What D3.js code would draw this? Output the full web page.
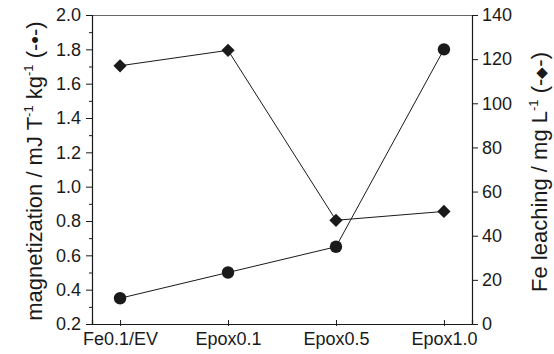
<!DOCTYPE html>
<html>
<head>
<meta charset="utf-8">
<script src="https://cdn.jsdelivr.net/npm/d3@7/dist/d3.min.js"></script>
<style>
  html, body { margin: 0; padding: 0; background: #fff; }
  svg { display: block; font-family: "Liberation Sans", Arial, sans-serif; }
</style>
</head>
<body>
<svg id="chart" width="554" height="354"></svg>
<script>
// Samples along the x axis
const categories = ["Fe0.1/EV", "Epox0.1", "Epox0.5", "Epox1.0"];
// Magnetization, mJ T^-1 kg^-1 (left axis, circles)
const magnetization = [0.35, 0.50, 0.65, 1.80];
// Fe leaching, mg L^-1 (right axis, diamonds)
const feLeaching = [117, 124, 47, 51];
// Axis ticks
const leftTicks = [0.2, 0.4, 0.6, 0.8, 1.0, 1.2, 1.4, 1.6, 1.8, 2.0];
const leftMinorTicks = [0.3, 0.5, 0.7, 0.9, 1.1, 1.3, 1.5, 1.7, 1.9];
const rightTicks = [0, 20, 40, 60, 80, 100, 120, 140];

const svg = d3.select("#chart");
const m = { left: 92, right: 472, top: 15, bottom: 324 };

const x = d3.scalePoint().domain(categories).range([m.left, m.right]).padding(0.26);
const yL = d3.scaleLinear().domain([0.2, 2.0]).range([m.bottom, m.top]);
const yR = d3.scaleLinear().domain([0, 140]).range([m.bottom, m.top]);

const ink = "#1a1a1a";

// Top frame line
svg.append("line")
  .attr("x1", m.left).attr("x2", m.right)
  .attr("y1", m.top + 0.5).attr("y2", m.top + 0.5)
  .attr("stroke", "#666").attr("stroke-width", 1);

// Left axis
svg.append("g").attr("transform", `translate(${m.left},0)`)
  .call(d3.axisLeft(yL).tickValues(leftTicks).tickFormat(d3.format(".1f")).tickSize(6).tickPadding(5));
svg.append("g").attr("transform", `translate(${m.left},0)`)
  .call(d3.axisLeft(yL).tickValues(leftMinorTicks).tickFormat("").tickSize(3))
  .select(".domain").remove();

// Right axis
svg.append("g").attr("transform", `translate(${m.right},0)`)
  .call(d3.axisRight(yR).tickValues(rightTicks).tickSize(6).tickPadding(4));

// Bottom axis
const gB = svg.append("g").attr("transform", `translate(0,${m.bottom})`)
  .call(d3.axisBottom(x).tickSize(-4).tickPadding(8));
gB.selectAll(".tick line").attr("y1", 2);

svg.selectAll(".domain").attr("stroke", ink).attr("stroke-width", 1.2);
svg.selectAll(".tick line").attr("stroke", ink).attr("stroke-width", 1);
svg.selectAll(".tick text").attr("fill", ink).attr("font-size", 18)
  .attr("font-family", "Liberation Sans, Arial, sans-serif");

// Axis titles
const titleL = svg.append("text")
  .attr("transform", `translate(42,171) rotate(-90)`)
  .attr("text-anchor", "middle").attr("font-size", 22).attr("fill", ink);
titleL.append("tspan").text("magnetization / mJ T");
titleL.append("tspan").attr("dy", -9).attr("font-size", 13).text("-1");
titleL.append("tspan").attr("dy", 9).text(" kg");
titleL.append("tspan").attr("dy", -9).attr("font-size", 13).text("-1");
titleL.append("tspan").attr("dy", 9).text(" (-\u2022-)");

const titleR = svg.append("text")
  .attr("transform", `translate(547,172) rotate(-90)`)
  .attr("text-anchor", "middle").attr("font-size", 22).attr("fill", ink);
titleR.append("tspan").text("Fe leaching / mg L");
titleR.append("tspan").attr("dy", -9).attr("font-size", 13).text("-1");
titleR.append("tspan").attr("dy", 9).text(" (-");
titleR.append("tspan").attr("font-size", 15).attr("dy", -1.5).text("\u25C6");
titleR.append("tspan").attr("dy", 1.5).text("-)");

// Series lines
const lineM = d3.line().x((d, i) => x(categories[i])).y(d => yL(d));
const lineF = d3.line().x((d, i) => x(categories[i])).y(d => yR(d));

svg.append("path").datum(magnetization).attr("d", lineM)
  .attr("fill", "none").attr("stroke", ink).attr("stroke-width", 1);
svg.append("path").datum(feLeaching).attr("d", lineF)
  .attr("fill", "none").attr("stroke", ink).attr("stroke-width", 1);

// Markers
svg.selectAll("circle.mag").data(magnetization).join("circle")
  .attr("class", "mag")
  .attr("cx", (d, i) => x(categories[i])).attr("cy", d => yL(d))
  .attr("r", 6.2).attr("fill", ink);

const diamond = d3.symbol().type(d3.symbolDiamond2).size(112);
svg.selectAll("path.fe").data(feLeaching).join("path")
  .attr("class", "fe")
  .attr("d", diamond)
  .attr("transform", (d, i) => `translate(${x(categories[i])},${yR(d)})`)
  .attr("fill", ink);
</script>
</body>
</html>
